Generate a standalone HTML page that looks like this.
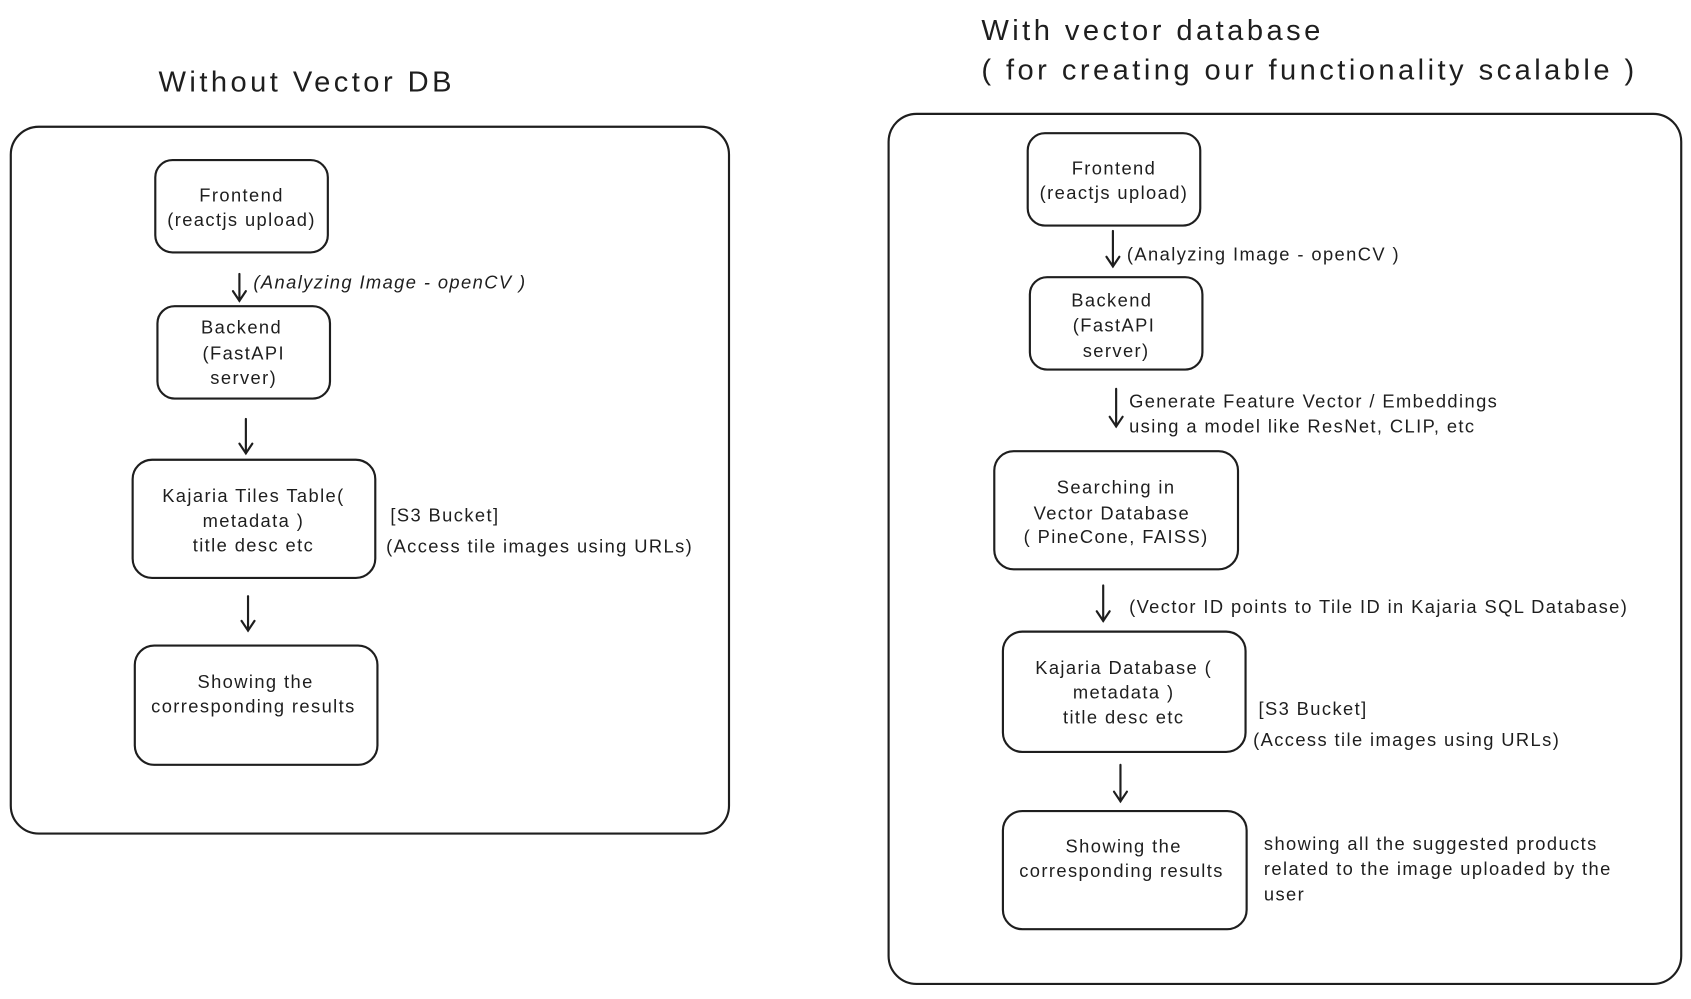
<!DOCTYPE html>
<html><head><meta charset="utf-8"><style>
html,body{margin:0;padding:0;background:#fff;width:1691px;height:999px;overflow:hidden}
svg{display:block}
text{font-family:"Liberation Sans","DejaVu Sans",sans-serif;fill:#1e1e1e;font-size:17px;letter-spacing:1.3px}
.c{text-anchor:middle}
.t{font-size:27px;letter-spacing:3.2px}
rect{fill:none;stroke:#1e1e1e;stroke-width:2}
line,path{stroke:#1e1e1e;stroke-width:2;fill:none;stroke-linecap:round}
</style></head><body>
<svg width="1691" height="999" viewBox="0 0 1691 999">
<g transform="scale(1.0784,1.0742)" dominant-baseline="middle">
<g transform="translate(0,3)">
<text x="147" y="75" class="t">Without Vector DB</text>
<text x="224" y="180" class="c">Frontend</text>
<text x="224" y="203" class="c">(reactjs upload)</text>
<text x="235" y="261" font-style="italic">(Analyzing Image - openCV )</text>
<text x="224" y="303" class="c">Backend</text>
<text x="226" y="327" class="c">(FastAPI</text>
<text x="226" y="350" class="c">server)</text>
<text x="235" y="460" class="c">Kajaria Tiles Table(</text>
<text x="235" y="483" class="c">metadata )</text>
<text x="235" y="506" class="c">title desc etc</text>
<text x="362" y="478">[S3 Bucket]</text>
<text x="358" y="507">(Access tile images using URLs)</text>
<text x="237" y="633" class="c">Showing the</text>
<text x="235" y="656" class="c">corresponding results</text>
<text x="910" y="27" class="t">With vector database</text>
<text x="910" y="64" class="t">( for creating our functionality scalable )</text>
<text x="1033" y="155" class="c">Frontend</text>
<text x="1033" y="178" class="c">(reactjs upload)</text>
<text x="1045" y="235">(Analyzing Image - openCV )</text>
<text x="1031" y="278" class="c">Backend</text>
<text x="1033" y="301" class="c">(FastAPI</text>
<text x="1035" y="325" class="c">server)</text>
<text x="1047" y="372">Generate Feature Vector / Embeddings</text>
<text x="1047" y="395">using a model like ResNet, CLIP, etc</text>
<text x="1035" y="452" class="c">Searching in</text>
<text x="1031" y="476" class="c">Vector Database</text>
<text x="1035" y="498" class="c">( PineCone, FAISS)</text>
<text x="1047" y="563">(Vector ID points to Tile ID in Kajaria SQL Database)</text>
<text x="1042" y="620" class="c">Kajaria Database (</text>
<text x="1042" y="643" class="c">metadata )</text>
<text x="1042" y="666" class="c">title desc etc</text>
<text x="1167" y="658">[S3 Bucket]</text>
<text x="1162" y="687">(Access tile images using URLs)</text>
<text x="1042" y="786" class="c">Showing the</text>
<text x="1040" y="809" class="c">corresponding results</text>
<text x="1172" y="784">showing all the suggested products</text>
<text x="1172" y="807">related to the image uploaded by the</text>
<text x="1172" y="831">user</text>
</g>
<rect x="10" y="118" width="666" height="658" rx="26"/>
<rect x="144" y="149" width="160" height="86" rx="16"/>
<line x1="222" y1="255" x2="222" y2="280"/><path d="M216 271 L222 280 L228 271"/>
<rect x="146" y="285" width="160" height="86" rx="16"/>
<line x1="228" y1="390" x2="228" y2="422"/><path d="M222 413 L228 422 L234 413"/>
<rect x="123" y="428" width="225" height="110" rx="18"/>
<line x1="230" y1="555" x2="230" y2="587"/><path d="M224 578 L230 587 L236 578"/>
<rect x="125" y="601" width="225" height="111" rx="18"/>
<rect x="824" y="106" width="735" height="810" rx="26"/>
<rect x="953" y="124" width="160" height="86" rx="16"/>
<line x1="1032" y1="215" x2="1032" y2="248"/><path d="M1026 239 L1032 248 L1038 239"/>
<rect x="955" y="258" width="160" height="86" rx="16"/>
<line x1="1035" y1="362" x2="1035" y2="397"/><path d="M1029 388 L1035 397 L1041 388"/>
<rect x="922" y="420" width="226" height="110" rx="18"/>
<line x1="1023" y1="545" x2="1023" y2="578"/><path d="M1017 569 L1023 578 L1029 569"/>
<rect x="930" y="588" width="225" height="112" rx="18"/>
<line x1="1039" y1="712" x2="1039" y2="746"/><path d="M1033 737 L1039 746 L1045 737"/>
<rect x="930" y="755" width="226" height="110" rx="18"/>
</g>
</svg>
</body></html>
